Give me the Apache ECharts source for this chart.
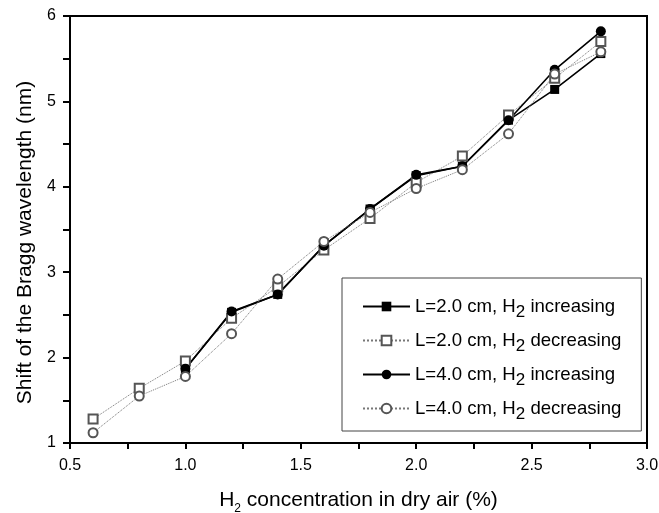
<!DOCTYPE html>
<html>
<head>
<meta charset="utf-8">
<script src="https://cdn.jsdelivr.net/npm/echarts@6/dist/echarts.min.js"></script>
<style>
  html, body { margin: 0; padding: 0; background: #fff; overflow: hidden; }
  #chart { width: 659px; height: 513px; }
</style>
</head>
<body>
<div id="chart"></div>
<script>
// H2 concentration in dry air (%)
const concentration = [0.6, 0.8, 1.0, 1.2, 1.4, 1.6, 1.8, 2.0, 2.2, 2.4, 2.6, 2.8];

// Bragg wavelength shift (nm) for each sensor length and sweep direction
const l2Increasing = [null, null, 1.87, 2.53, 2.74, 3.31, 3.74, 4.13, 4.24, 4.78, 5.14, 5.56];
const l2Decreasing = [1.28, 1.64, 1.96, 2.46, 2.83, 3.26, 3.63, 4.05, 4.36, 4.84, 5.27, 5.70];
const l4Increasing = [null, null, 1.87, 2.54, 2.74, 3.31, 3.74, 4.14, 4.24, 4.78, 5.37, 5.82];
const l4Decreasing = [1.12, 1.55, 1.78, 2.28, 2.92, 3.36, 3.70, 3.98, 4.20, 4.62, 5.32, 5.58];

const seriesNames = [
  'L=2.0 cm, H2 increasing',
  'L=2.0 cm, H2 decreasing',
  'L=4.0 cm, H2 increasing',
  'L=4.0 cm, H2 decreasing'
];

const FONT = 'Liberation Sans, Arial, sans-serif';

function pairs(values) {
  const out = [];
  values.forEach((v, i) => { if (v !== null) out.push([concentration[i], v]); });
  return out;
}

const solid = { color: '#000', width: 1.6, type: 'solid' };
const dotted = { color: '#777', width: 1, type: 'dotted' };

const chart = echarts.init(document.getElementById('chart'), null, { renderer: 'canvas' });

chart.setOption({
  animation: false,
  backgroundColor: '#fff',
  textStyle: { fontFamily: FONT },
  grid: {
    left: 70, right: 12, top: 16, bottom: 70,
    containLabel: false,
    outerBoundsMode: 'none',
    show: true, borderColor: '#000', borderWidth: 2, backgroundColor: 'transparent'
  },
  legend: {
    orient: 'vertical',
    left: 342, top: 278,
    padding: [19, 20, 8, 20],
    borderColor: '#444', borderWidth: 1,
    itemWidth: 47, itemHeight: 12, itemGap: 10,
    data: seriesNames,
    formatter: function (name) {
      const parts = name.split('H2');
      return '{t|' + parts[0] + 'H}{s|2}{t|' + parts[1] + '}';
    },
    textStyle: {
      fontFamily: FONT, fontSize: 18.6, color: '#000',
      rich: {
        t: { fontFamily: FONT, fontSize: 18.6, color: '#000', lineHeight: 20 },
        s: { fontFamily: FONT, fontSize: 17, color: '#000', padding: [12, 0, 0, 0] }
      }
    }
  },
  xAxis: {
    type: 'value',
    min: 0.5, max: 3.0, interval: 0.5,
    name: '{t|H}{s|2}{t| concentration in dry air (%)}',
    nameLocation: 'middle',
    nameGap: 42,
    nameTextStyle: {
      rich: {
        t: { fontFamily: FONT, fontSize: 21, color: '#000' },
        s: { fontFamily: FONT, fontSize: 12, color: '#000', padding: [18, 0, 0, 0] }
      }
    },
    axisLine: { show: true, lineStyle: { color: '#000', width: 2 } },
    axisTick: { show: true, inside: false, length: 6, lineStyle: { color: '#000', width: 2 } },
    minorTick: { show: true, splitNumber: 2, length: 6, lineStyle: { color: '#000', width: 2 } },
    splitLine: { show: false },
    axisLabel: {
      margin: 15, fontFamily: FONT, fontSize: 16, color: '#000',
      formatter: v => v.toFixed(1)
    }
  },
  yAxis: {
    type: 'value',
    min: 1, max: 6, interval: 1,
    name: 'Shift of the Bragg wavelength (nm)',
    nameLocation: 'middle',
    nameGap: 32,
    nameTextStyle: { fontFamily: FONT, fontSize: 21, color: '#000', padding: [0, 26, 0, 0] },
    axisLine: { show: true, lineStyle: { color: '#000', width: 2 } },
    axisTick: { show: true, inside: false, length: 7, lineStyle: { color: '#000', width: 2 } },
    minorTick: { show: true, splitNumber: 2, length: 7, lineStyle: { color: '#000', width: 2 } },
    splitLine: { show: false },
    axisLabel: { margin: 14, fontFamily: FONT, fontSize: 16, color: '#000' }
  },
  series: [
    {
      name: seriesNames[0], type: 'line', data: pairs(l2Increasing),
      symbol: 'rect', symbolSize: 9,
      itemStyle: { color: '#000', borderColor: '#000', borderWidth: 0 },
      lineStyle: solid
    },
    {
      name: seriesNames[1], type: 'line', data: pairs(l2Decreasing),
      symbol: 'emptyRect', symbolSize: 9,
      itemStyle: { color: '#555', borderColor: '#555', borderWidth: 1.2 },
      lineStyle: dotted
    },
    {
      name: seriesNames[2], type: 'line', data: pairs(l4Increasing),
      symbol: 'circle', symbolSize: 10,
      itemStyle: { color: '#000', borderColor: '#000', borderWidth: 0 },
      lineStyle: solid
    },
    {
      name: seriesNames[3], type: 'line', data: pairs(l4Decreasing),
      symbol: 'emptyCircle', symbolSize: 9,
      itemStyle: { color: '#555', borderColor: '#555', borderWidth: 1.2 },
      lineStyle: dotted
    }
  ]
});
</script>
</body>
</html>
